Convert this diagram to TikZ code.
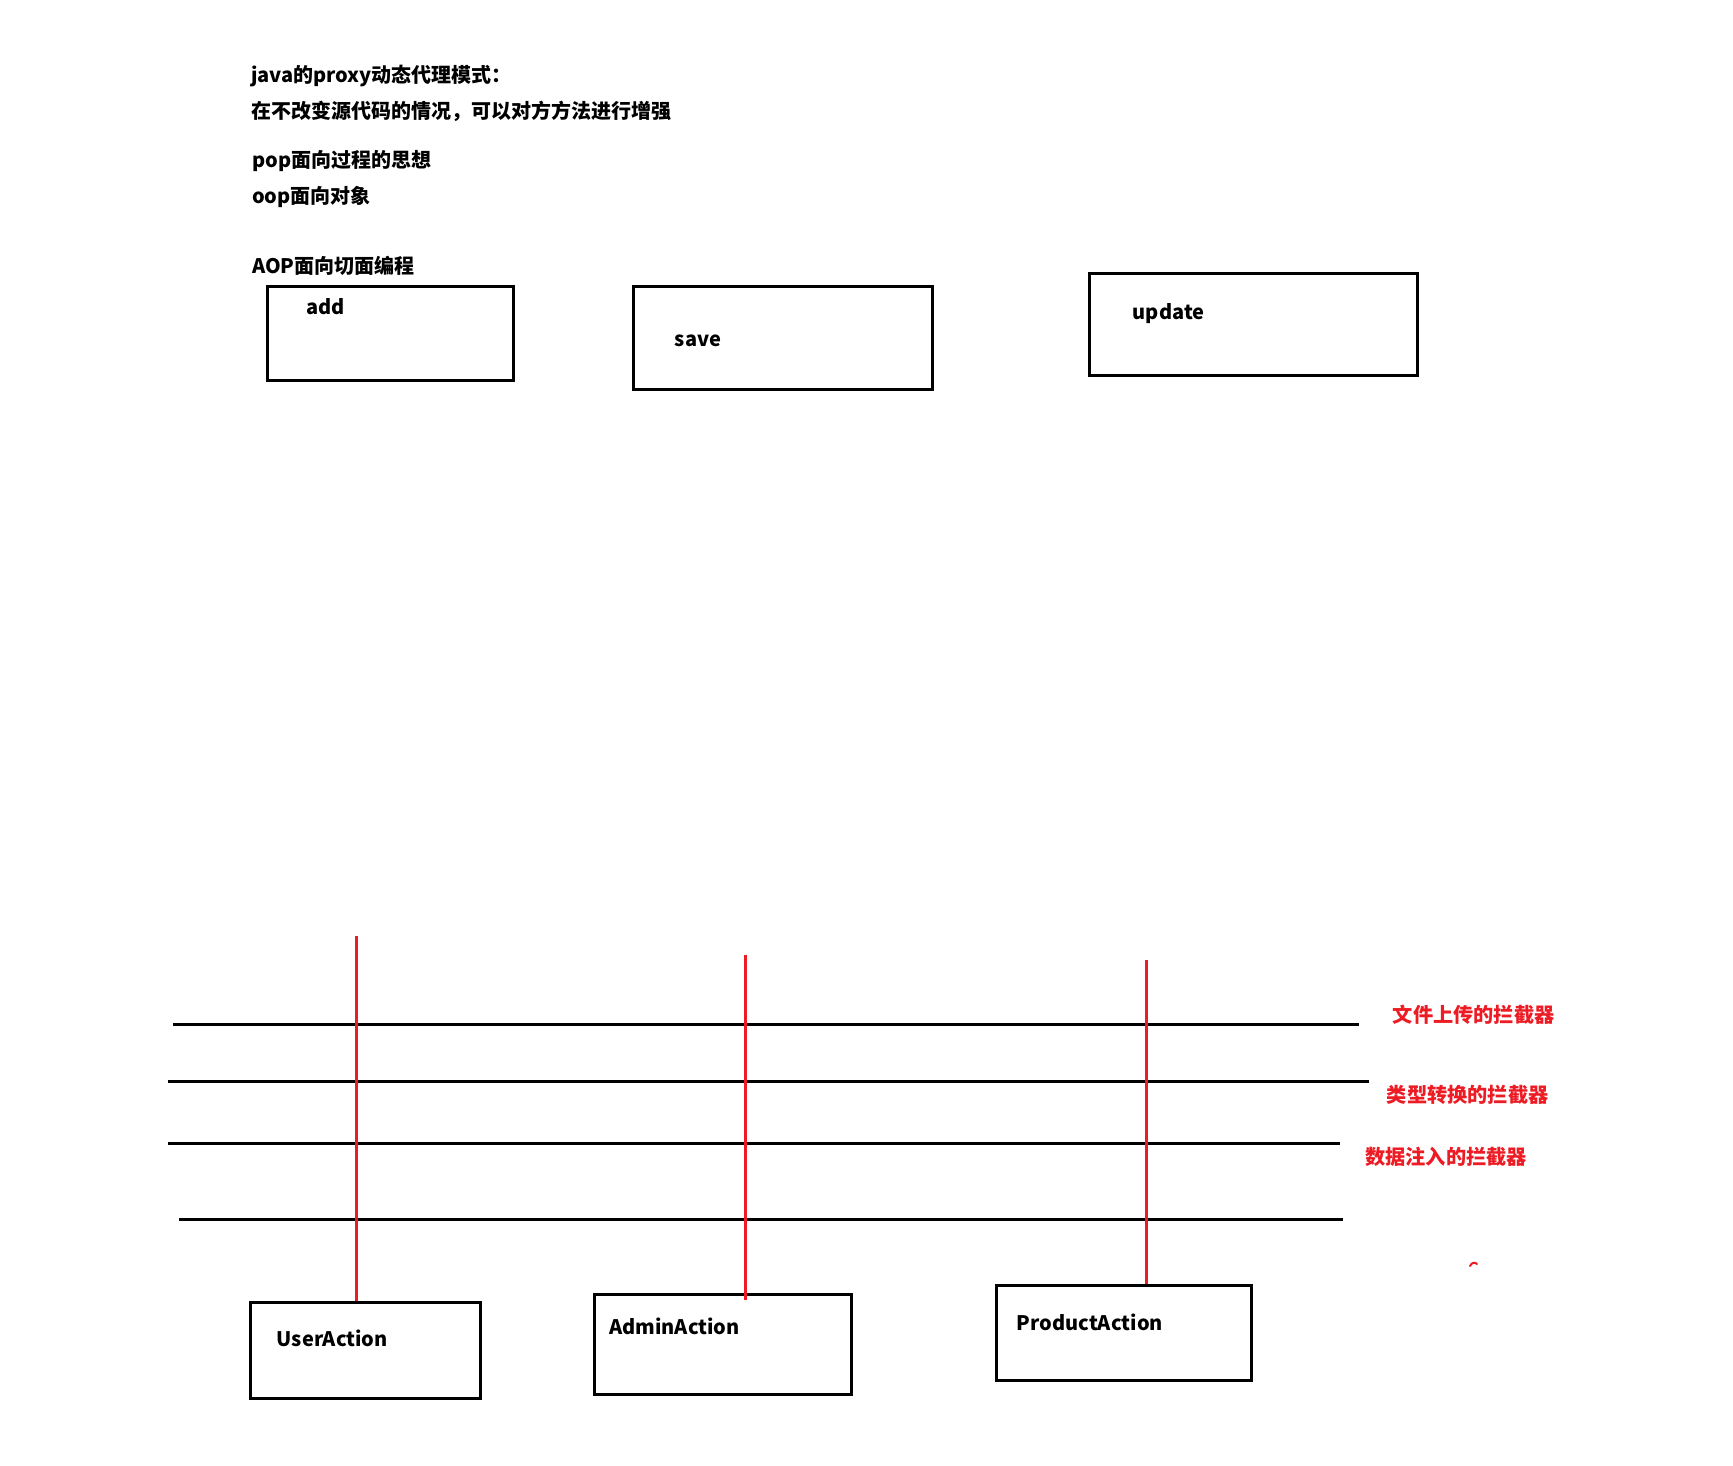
\documentclass[tikz,border=0pt]{standalone}
\usepackage{fontspec}
\setmainfont{Noto Sans CJK SC}
\definecolor{pred}{RGB}{237,28,36}
\tikzset{
  txt/.style={anchor=base west, inner sep=0pt, font=\fontsize{20pt}{24pt}\selectfont\bfseries},
  redtxt/.style={anchor=base west, inner sep=0pt, text=pred, font=\fontsize{20.2pt}{24pt}\selectfont\bfseries},
  box/.style={draw=black, line width=3pt, rectangle, inner sep=0pt},
  hline/.style={draw=black, line width=3pt},
  vline/.style={draw=pred, line width=2.6pt},
}
\begin{document}
\begin{tikzpicture}[x=1pt, y=-1pt]
\fill[white] (0,0) rectangle (1733,1466);
\useasboundingbox (0,0) rectangle (1733,1466);

% header text
\node[txt] (t1) at (251,83) {java的proxy动态代理模式：};
\node[txt] (t2) at (251,118.5) {在不改变源代码的情况，可以对方方法进行增强};
\node[txt] (t3) at (252,168) {pop面向过程的思想};
\node[txt] (t4) at (252,204) {oop面向对象};
\node[txt] (t5) at (252,274) {AOP面向切面编程};

% top boxes
\node[box, minimum width=246.4pt, minimum height=93.5pt] (add) at (390.7,333.3) {};
\node[txt] (addt) at (306.5,314) {add};
\node[box, minimum width=299.8pt, minimum height=103.3pt] (save) at (782.9,338.3) {};
\node[txt] (savet) at (674.7,346) {save};
\node[box, minimum width=328.4pt, minimum height=102.4pt] (update) at (1253.5,324.5) {};
\node[txt] (updatet) at (1132.7,319.3) {update};

% horizontal interceptor lines
\coordinate (h1a) at (173,1024.3);   \coordinate (h1b) at (1359.4,1024.3);
\coordinate (h2a) at (167.7,1081.3); \coordinate (h2b) at (1368.6,1081.3);
\coordinate (h3a) at (167.7,1143.3); \coordinate (h3b) at (1339.5,1143.3);
\coordinate (h4a) at (179,1219.3);   \coordinate (h4b) at (1342.8,1219.3);
\draw[hline] (h1a) -- (h1b);
\draw[hline] (h2a) -- (h2b);
\draw[hline] (h3a) -- (h3b);
\draw[hline] (h4a) -- (h4b);

% bottom boxes
\node[box, minimum width=230.7pt, minimum height=95.6pt] (ua) at (365.4,1350.5) {};
\node[txt] (uat) at (276.7,1346.7) {UserAction};
\node[box, minimum width=257.1pt, minimum height=100pt] (aa) at (722.9,1344.3) {};
\node[txt] (aat) at (609,1334) {AdminAction};
\node[box, minimum width=255.9pt, minimum height=95.4pt] (pa) at (1124,1333) {};
\node[txt] (pat) at (1016.6,1330.7) {ProductAction};

% red vertical lines
\coordinate (r1) at (356.7,936);
\coordinate (r2) at (745.2,955);
\coordinate (r3) at (1146.5,960);
\draw[vline] (r1) -- (r1 |- ua.north);
\draw[vline] (r2) -- ([yshift=-7pt]r2 |- aa.north);
\draw[vline] (r3) -- (r3 |- pa.north);

% red labels
\node[redtxt] (l1) at (1392.7,1022.5) {文件上传的拦截器};
\node[redtxt] (l2) at (1386.7,1102) {类型转换的拦截器};
\node[redtxt] (l3) at (1365,1164) {数据注入的拦截器};

% small red mark
\draw[pred, line width=2pt, line cap=round] (1470,1266) .. controls (1472,1262) and (1475,1262) .. (1477,1264);
\end{tikzpicture}
\end{document}
